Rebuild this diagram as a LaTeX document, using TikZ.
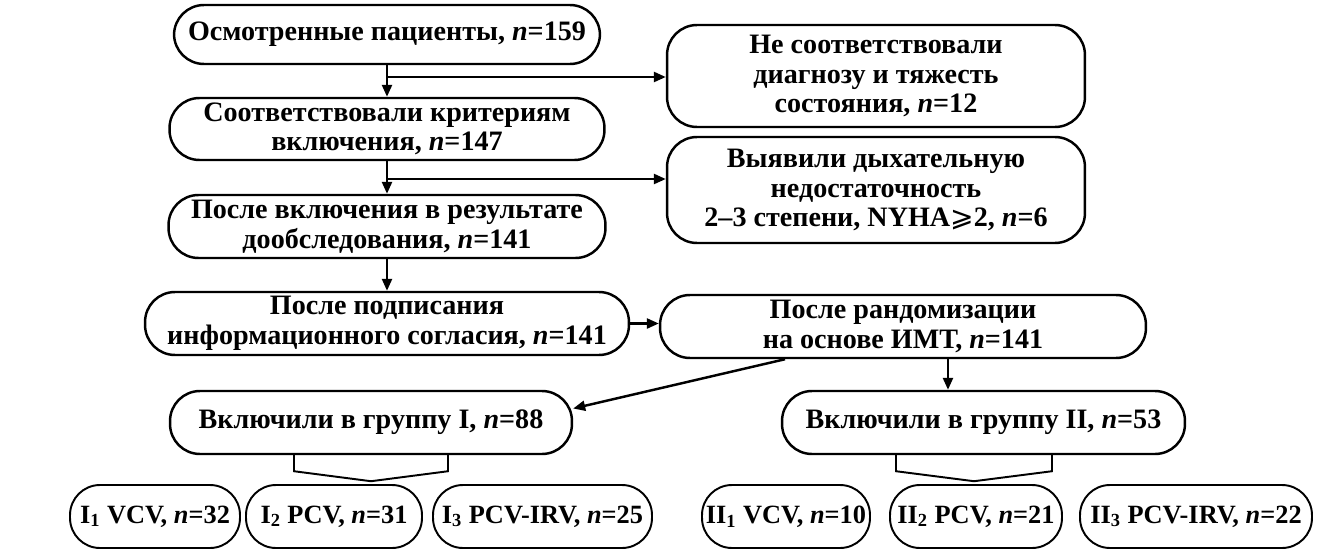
\documentclass[tikz,border=0pt]{standalone}
\usepackage{fontspec}
\setmainfont{Liberation Serif}
\newfontfamily\symfont{DejaVu Sans}
\usetikzlibrary{arrows.meta}

\begin{document}
\begin{tikzpicture}[x=0.02cm,y=-0.02cm,
    box/.style={draw,line width=1.4pt,rounded corners=0.6cm,align=center,inner sep=0pt,
        minimum height=1.26cm,font=\fontsize{16pt}{16.8pt}\selectfont\bfseries},
    sub/.style={box,line width=1.1pt,font=\fontsize{15pt}{16pt}\selectfont\bfseries},
    arr/.style={-{Triangle[length=0.24cm,width=0.2cm]},line width=1.4pt},
    brace/.style={line width=1.1pt}]
            \useasboundingbox (0,0) rectangle (1320,551);
            \node [box,minimum width=8.52cm,minimum height=1.18cm] (A) at (387,34.5) {Осмотренные пациенты, {\itshape n}=159};
            \node [box,minimum width=8.36cm,minimum height=2.04cm] (B) at (876,76) {Не соответствовали\\диагнозу и тяжесть\\состояния, {\itshape n}=12};
            \node [box,minimum width=8.7cm,minimum height=1.24cm] (C) at (387,129) {Соответствовали критериям\\включения, {\itshape n}=147};
            \node [box,minimum width=8.36cm,minimum height=2.12cm] (D) at (876,190) {Выявили дыхательную\\недостаточность\\2–3 степени, NYHA{\symfont\mdseries ⩾}2, {\itshape n}=6};
            \node [box,minimum width=8.74cm] (E) at (387,226.5) {После включения в результате\\дообследования, {\itshape n}=141};
            \node [box,minimum width=9.68cm] (F) at (387,323.5) {После подписания\\информационного согласия, {\itshape n}=141};
            \node [box,minimum width=9.72cm] (G) at (903,326.5) {После рандомизации\\на основе ИМТ, {\itshape n}=141};
            \node [box,minimum width=8.04cm] (H) at (371,422.5) {Включили в группу I, {\itshape n}=88};
            \node [box,minimum width=8.06cm] (J) at (983.5,422.5) {Включили в группу II, {\itshape n}=53};
            \node [sub,minimum width=3.4cm] (I1) at (155,516.5) {I\textsubscript{1} VCV, {\itshape n}=32};
            \node [sub,minimum width=3.52cm] (I2) at (334,516.5) {I\textsubscript{2} PCV, {\itshape n}=31};
            \node [sub,minimum width=4.38cm] (I3) at (542.5,516.5) {I\textsubscript{3} PCV-IRV, {\itshape n}=25};
            \node [sub,minimum width=3.36cm] (II1) at (786,516.5) {II\textsubscript{1} VCV, {\itshape n}=10};
            \node [sub,minimum width=3.44cm] (II2) at (976,516.5) {II\textsubscript{2} PCV, {\itshape n}=21};
            \node [sub,minimum width=4.64cm] (II3) at (1196,516.5) {II\textsubscript{3} PCV-IRV, {\itshape n}=22};
            \coordinate (ab) at (387,77);
            \coordinate (ce) at (387,179);
            \coordinate (gh) at ([xshift=-2.36cm]G.south);
            \coordinate (gj) at ([xshift=0.9cm]G.south);
            \draw [arr] (A.south) -- (C.north);
            \draw [arr] (ab) -- (ab -| B.west);
            \draw [arr] (C.south) -- (E.north);
            \draw [arr] (ce) -- (ce -| D.west);
            \draw [arr] (E.south) -- (F.north);
            \draw [arr] (F.east) -- (F.east -| G.west);
            \draw [arr] (gh) -- ([yshift=0.28cm]H.east);
            \draw [arr] (gj) -- (gj |- J.north);
            \draw [brace] ([xshift=-1.54cm]H.south) -- ++(0,16) -- ++(77,10) -- ++(77,-10) -- ++(0,-16);
            \draw [brace] ([xshift=-1.75cm]J.south) -- ++(0,16) -- ++(78,10) -- ++(78,-10) -- ++(0,-16);
        \end{tikzpicture}
\end{document}
